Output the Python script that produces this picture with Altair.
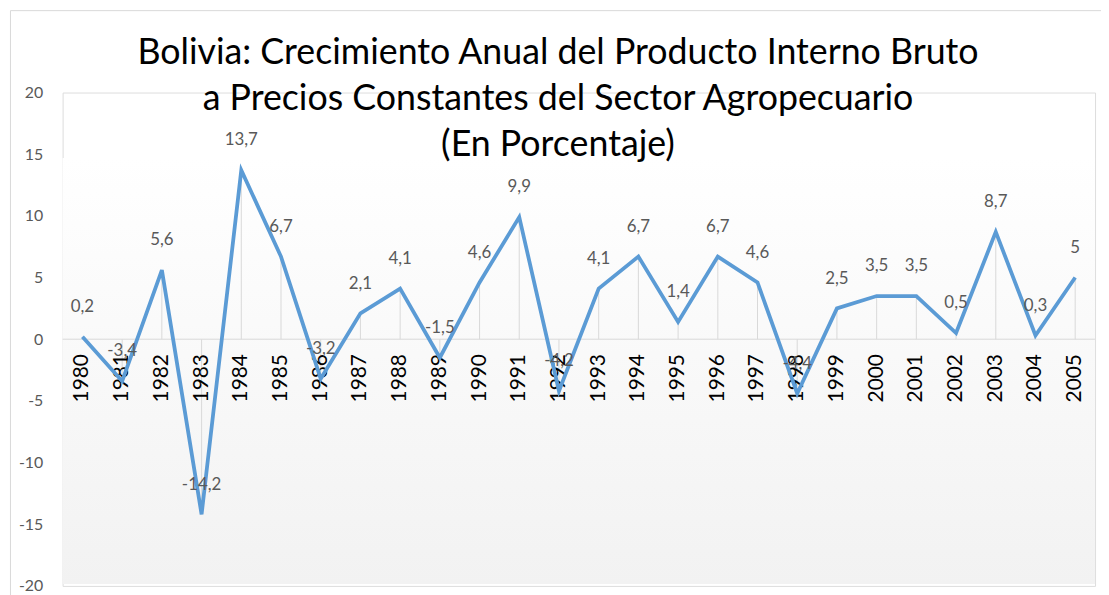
import altair as alt
import pandas as pd

years = [str(y) for y in range(1980, 2006)]
values = [0.2, -3.4, 5.6, -14.2, 13.7, 6.7, -3.2, 2.1, 4.1, -1.5, 4.6, 9.9, -4.2,
          4.1, 6.7, 1.4, 6.7, 4.6, -4.4, 2.5, 3.5, 3.5, 0.5, 8.7, 0.3, 5.0]
title_lines = [
    "Bolivia: Crecimiento Anual del Producto Interno Bruto",
    "a Precios Constantes del Sector Agropecuario",
    "(En Porcentaje)",
]
y_ticks = [-20, -15, -10, -5, 0, 5, 10, 15, 20]

labels = [f"{v:g}".replace(".", ",") for v in values]

W, H = 1040, 497
FONT = "Lato"

df = pd.DataFrame({"year": years, "value": values, "label": labels})
df["zero"] = 0

xscale = alt.Scale(type="point", padding=0.5, domain=years)
yscale = alt.Scale(domain=[-20, 20], nice=False, zero=False)

X = alt.X("year:O", scale=xscale, axis=None)

base = alt.Chart(df)

one = alt.Chart(pd.DataFrame({"k": [0]}))

frame = one.mark_rect(fillOpacity=0, stroke="#d9d9d9", strokeWidth=1).encode(
    x=alt.value(-52.5), x2=alt.value(W + 100), y=alt.value(-82.5), y2=alt.value(H + 100)
)

bg = one.mark_rect(
    color=alt.LinearGradient(
        gradient="linear",
        stops=[alt.GradientStop(color="#ffffff", offset=0),
               alt.GradientStop(color="#f2f2f2", offset=1)],
        x1=0, x2=0, y1=0, y2=1,
    )
).encode(x=alt.value(0), x2=alt.value(W), y=alt.value(66), y2=alt.value(H - 2))

zero_line = one.mark_rule(color="#d9d9d9", strokeWidth=1).encode(
    y=alt.datum(0, scale=yscale)
)

drops = base.mark_rule(color="#d9d9d9", strokeWidth=1).encode(
    x=X,
    y=alt.Y("value:Q", scale=yscale),
    y2="zero:Q",
)

year_text = base.mark_text(
    angle=270, align="right", baseline="middle", dx=-15, fontSize=21,
    font=FONT, color="#000000"
).encode(x=X, y=alt.Y("zero:Q", scale=yscale), text="year:N")

line = base.mark_line(color="#5b9bd5", strokeWidth=3.8).encode(
    x=X,
    y=alt.Y(
        "value:Q", scale=yscale,
        axis=alt.Axis(
            values=y_ticks, labelExpr="'' + datum.value", domain=False, ticks=False,
            grid=False, labelPadding=20, labelFontSize=16, labelFont=FONT,
            labelColor="#595959", title=None,
        ),
    ),
)

pt_labels = base.mark_text(
    dy=-30, fontSize=17, font=FONT, color="#595959", baseline="middle"
).encode(x=X, y=alt.Y("value:Q", scale=yscale), text="label:N")

chart = alt.layer(frame, bg, zero_line, drops, year_text, line, pt_labels).properties(
    width=W,
    height=H,
    autosize=alt.AutoSizeParams(type="none"),
    padding={"left": 55, "top": 83, "right": 6, "bottom": 7},
    title=alt.TitleParams(
        text=title_lines, fontSize=36, font=FONT, color="#000000",
        fontWeight="normal", anchor="middle", frame="group", dx=-21,
        baseline="bottom", offset=-191, lineHeight=46.5,
    ),
).configure_view(strokeOpacity=0, stroke="transparent").configure(background="#ffffff")

chart.save("out.html", embed_options={"renderer": "svg", "actions": False})
